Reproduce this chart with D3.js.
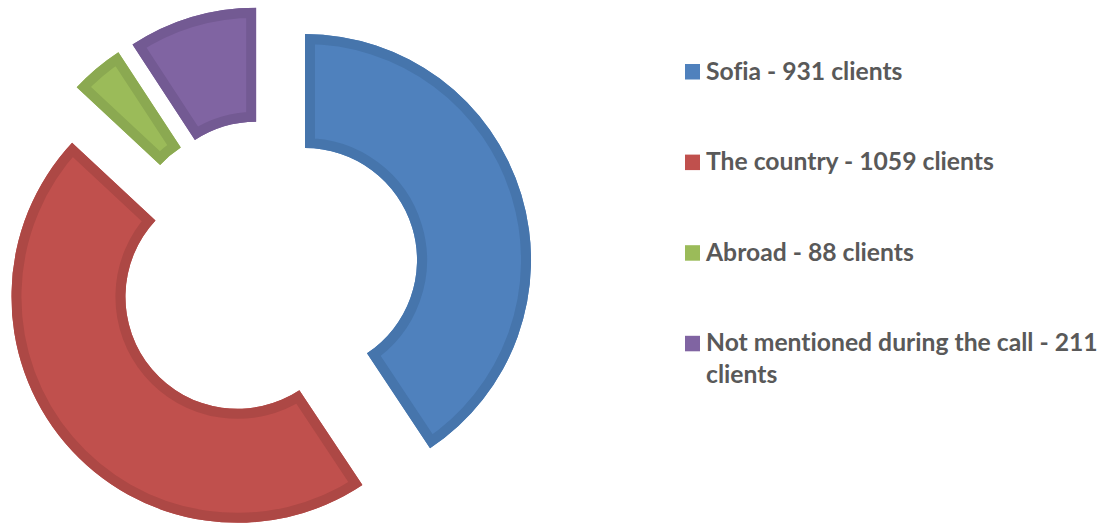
<!doctype html>
<html>
<head>
  <meta charset="utf-8">
  <title>Clients by location</title>
  <script src="https://d3js.org/d3.v7.min.js"></script>
  <style>
    body { margin: 0; background: #fff; }
    .legend text {
      font-family: Lato, "Open Sans", sans-serif;
      font-weight: bold;
      font-variant-ligatures: none;
      fill: #595959;
    }
  </style>
</head>
<body>
<script>

// data
var categories = ["Sofia", "The country", "Abroad", "Not mentioned during the call"];
var clients = [931, 1059, 88, 211];
var legendLines = [
  ["Sofia - 931 clients"],
  ["The country - 1059 clients"],
  ["Abroad - 88 clients"],
  ["Not mentioned during the call - 211", "clients"]
];
var fills = ["#4F81BD", "#C0504D", "#9BBB59", "#8064A2"];
var borders = ["#4675AC", "#AD4845", "#8BA951", "#735A93"];

var width = 1106, height = 524;
var cx = 267.4, cy = 271.4;      // donut centre before explosion
var outerR = 226, innerR = 112;
var explode = 39.3;
var border = 10;

var svg = d3.select("body").append("svg")
    .attr("width", width)
    .attr("height", height);

var pie = d3.pie().sort(null).value(function(d) { return d; });
var arc = d3.arc().innerRadius(innerR).outerRadius(outerR);
var arcs = pie(clients);

var slices = svg.selectAll(".slice")
    .data(arcs)
    .enter().append("g")
    .attr("class", "slice")
    .attr("transform", function(d) {
      var a = (d.startAngle + d.endAngle) / 2;
      return "translate(" + (cx + explode * Math.sin(a)) + "," + (cy - explode * Math.cos(a)) + ")";
    });

// clip each slice to itself so the border sits inside the shape
slices.append("clipPath")
    .attr("id", function(d, i) { return "clip" + i; })
  .append("path")
    .attr("d", arc);

slices.append("path")
    .attr("d", arc)
    .attr("fill", function(d, i) { return fills[i]; });

slices.append("path")
    .attr("d", arc)
    .attr("fill", "none")
    .attr("stroke", function(d, i) { return borders[i]; })
    .attr("stroke-width", border * 2)
    .attr("stroke-linejoin", "miter")
    .attr("clip-path", function(d, i) { return "url(#clip" + i + ")"; });

// legend
var legend = svg.append("g").attr("class", "legend");
var legendX = 685, firstBaseline = 79.5, rowStep = 90.6, lineStep = 32;

// size the font so the longest line spans the same width as the reference
var probe = legend.append("text").style("font-size", "20px").text(legendLines[3][0]);
var fontSize = 20 * 392 / probe.node().getComputedTextLength();
probe.remove();

legendLines.forEach(function(lines, i) {
  var base = firstBaseline + i * rowStep;
  legend.append("rect")
      .attr("x", legendX)
      .attr("y", base - 15.5)
      .attr("width", 15)
      .attr("height", 15.5)
      .attr("fill", fills[i]);
  lines.forEach(function(t, j) {
    legend.append("text")
        .attr("x", legendX + 21)
        .attr("y", base + j * lineStep)
        .style("font-size", fontSize + "px")
        .text(t);
  });
});

</script>
</body>
</html>
